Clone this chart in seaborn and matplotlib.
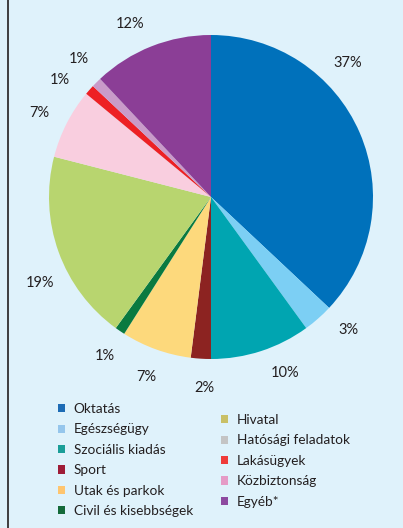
import numpy as np
import matplotlib
matplotlib.use("Agg")
import matplotlib.pyplot as plt
import seaborn as sns
from matplotlib.patches import Patch
from matplotlib.lines import Line2D

# data
categories = ["Oktatás", "Egészségügy", "Szociális kiadás", "Sport", "Utak és parkok",
              "Civil és kisebbségek", "Hivatal", "Hatósági feladatok", "Lakásügyek",
              "Közbiztonság", "Egyéb*"]
shares = [37, 3, 10, 2, 7, 1, 19, 7, 1, 1, 12]

pie_colors = ["#0071bb", "#7ccff4", "#00a5b1", "#8c2321", "#fdd97c", "#0a7a40",
              "#b8d56f", "#f9cedf", "#ed2024", "#c99bc9", "#8b3e96"]
legend_colors = ["#1d6cb5", "#95c6ec", "#1a9e98", "#9e1c37", "#fec56f", "#146a3a",
                 "#c9c066", "#c4c4c4", "#ef3b3a", "#e59bc6", "#8d4aa0"]

bg = "#dff2fb"
sns.set_style("white")
plt.rcParams["font.family"] = ["Lato", "DejaVu Sans"]

fig = plt.figure(figsize=(4.03, 5.28), dpi=100, facecolor=bg)

# pie axes: centre at (211, 197) px, radius ~162 px
R = 162
lim = 1.2
side = 2 * lim * R
ax = fig.add_axes([(211 - side / 2) / 403, (528 - 197 - side / 2) / 528,
                   side / 403, side / 528])
ax.set_facecolor("none")

wedges, _ = ax.pie(shares, colors=pie_colors, startangle=90, counterclock=False,
                   radius=1.0, wedgeprops=dict(linewidth=0), center=(0, 0))
ax.set_xlim(-lim, lim)
ax.set_ylim(-lim, lim)
ax.axis("off")

# nudges (degrees) so the labels sit like in the reference
nudge = {0: 21, 1: 4.6, 2: 4.8, 3: 1.7, 5: 0.3, 6: 7, 7: 0.8, 8: 3.5, 9: -1.3, 10: 3.6}
for i, (w, v) in enumerate(zip(wedges, shares)):
    ang = np.deg2rad((w.theta1 + w.theta2) / 2 + nudge.get(i, 0))
    d = 1.18
    ax.text(d * np.cos(ang), d * np.sin(ang), f"{v}%", ha="center", va="center",
            fontsize=10.5, color="#231f20")

# left frame line
fig.add_artist(Line2D([8 / 403, 8 / 403], [0, 1], color="#231f20", lw=1.2,
                      transform=fig.transFigure))

# legend in two columns
fs = 9.8
left = [Patch(facecolor=c, edgecolor="none") for c in legend_colors[:6]]
right = [Patch(facecolor=c, edgecolor="none") for c in legend_colors[6:]]
common = dict(frameon=False, fontsize=fs, handlelength=0.55, handleheight=0.55,
              handletextpad=0.6, borderpad=0, borderaxespad=0, labelspacing=0.62,
              labelcolor="#231f20")
fig.legend(left, categories[:6], loc="upper left",
           bbox_to_anchor=(58 / 403, 1 - 403 / 528), **common)
fig.legend(right, categories[6:], loc="upper left",
           bbox_to_anchor=(221 / 403, 1 - 414 / 528), **common)

fig.savefig("out.png", dpi=100, facecolor=bg)
